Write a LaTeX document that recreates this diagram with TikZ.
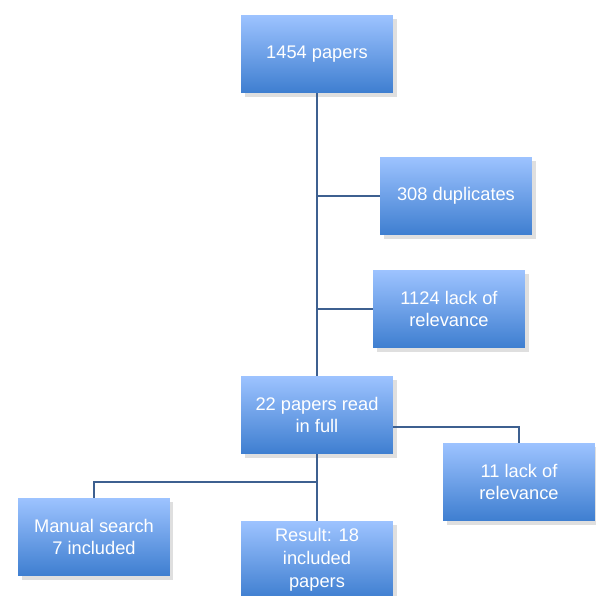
\documentclass[tikz,border=0pt]{standalone}
\usepackage{fontspec}
\setmainfont{Liberation Sans}
\usetikzlibrary{shadows}
\definecolor{boxtop}{HTML}{9DC3FF}
\definecolor{boxbottom}{HTML}{3E7ED0}
\definecolor{linkcol}{HTML}{3D6090}
\begin{document}
\begin{tikzpicture}[x=0.02cm,y=-0.02cm]
\useasboundingbox (0,0) rectangle (596,596);
\clip (0,0) rectangle (596,596);
\tikzstyle{stage}=[rectangle,minimum width=3.04cm,minimum height=1.56cm,
	top color=boxtop,bottom color=boxbottom,draw=none,text=white,
	align=center,font=\fontsize{10.4}{13}\selectfont,
	drop shadow={shadow xshift=2pt,shadow yshift=-2pt,opacity=0.25}];
\tikzstyle{link}=[draw=linkcol,line width=1.1pt];
\node[stage] (A)at(317,54) {1454 papers};
\node[stage] (B)at(456,196) {308 duplicates};
\node[stage] (C)at(449,309) {1124 lack of\\relevance};
\node[stage] (D)at(317,415) {22 papers read\\in full};
\node[stage] (E)at(519,482) {11 lack of\\relevance};
\node[stage] (F)at(94,537) {Manual search\\7 included};
\node[stage] (G)at(317,560) {Result: 18\\included\\papers};
\coordinate (J)at(317,482);
\draw[link](A.south)--(D.north);
\draw[link](B.west)--(B.west-|A.south);
\draw[link](C.west)--(C.west-|A.south);
\draw[link](D.south)--(G.north);
\draw[link]([yshift=-0.24cm]D.east)-|(E.north);
\draw[link](J)-|(F.north);
\end{tikzpicture}
\end{document}
